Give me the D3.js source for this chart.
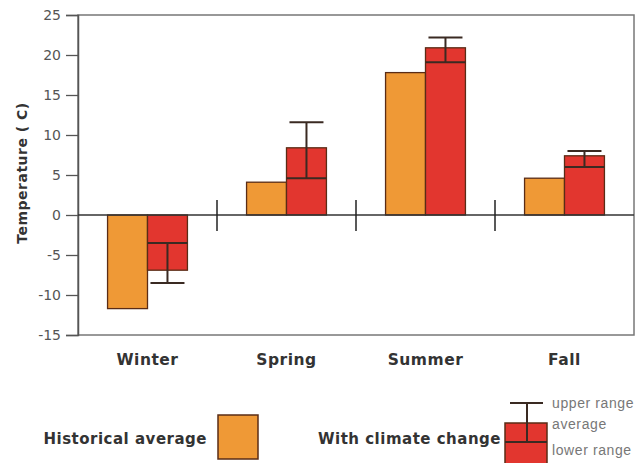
<!DOCTYPE html>
<html>
<head>
<meta charset="utf-8">
<script src="https://cdn.jsdelivr.net/npm/d3@7"></script>
<style>
  html, body { margin: 0; padding: 0; background: #fff; }
  svg { display: block; }
</style>
</head>
<body>
<svg id="chart" width="642" height="463"></svg>
<script>
// Seasonal temperatures, historical vs. projected with climate change
const categories = ["Winter", "Spring", "Summer", "Fall"];
const historical = [-11.7, 4.1, 17.8, 4.6];
const climateAvg = [-6.9, 8.4, 20.9, 7.4];
const climateLow = [-8.5, 4.6, 19.1, 6.0];
const climateHigh = [-3.5, 11.6, 22.2, 8.0];
const yTicks = [-15, -10, -5, 0, 5, 10, 15, 20, 25];

const orange = "#ef9936";
const red = "#e2362f";
const edge = "#5a2c16";
const whisker = "#3a2a22";
const axisColor = "#555";
const boldFont = "'DejaVu Sans', Verdana, sans-serif";

const svg = d3.select("#chart");
const plotLeft = 78, plotRight = 634, plotTop = 15, plotBottom = 335;

const y = d3.scaleLinear().domain([-15, 25]).range([plotBottom, plotTop]);
const x = d3.scaleBand().domain(categories).range([plotLeft, plotRight]).padding(0);
const xs = d3.scaleBand().domain(["hist", "climate"]).range([0, x.bandwidth()])
  .paddingInner(0).paddingOuter(0.74);

// Frame around the plotting area
svg.append("rect")
  .attr("x", plotLeft).attr("y", plotTop)
  .attr("width", plotRight - plotLeft).attr("height", plotBottom - plotTop)
  .attr("fill", "none").attr("stroke", "#777").attr("stroke-width", 1.5);

// Y axis (plain hyphen for negatives)
const yAxis = svg.append("g")
  .attr("transform", `translate(${plotLeft},0)`)
  .call(d3.axisLeft(y).tickValues(yTicks).tickFormat(d => String(d))
    .tickSize(12).tickPadding(5));
yAxis.select(".domain").attr("stroke", axisColor).attr("stroke-width", 1.5);
yAxis.selectAll(".tick line").attr("stroke", axisColor).attr("stroke-width", 1.3);
yAxis.selectAll(".tick text")
  .attr("fill", "#555")
  .style("font-family", "'DejaVu Sans', sans-serif")
  .style("font-size", "14px");

svg.append("text")
  .attr("transform", "translate(27,173) rotate(-90)")
  .attr("text-anchor", "middle")
  .attr("fill", "#333")
  .style("font-family", boldFont)
  .style("font-weight", "bold")
  .style("font-size", "14px")
  .style("letter-spacing", "0.5px")
  .text("Temperature ( C)");

// Bars
const groups = svg.append("g").selectAll("g")
  .data(categories)
  .join("g")
  .attr("transform", d => `translate(${x(d)},0)`);

groups.append("rect")
  .attr("x", xs("hist"))
  .attr("width", xs.bandwidth())
  .attr("y", (d, i) => y(Math.max(0, historical[i])))
  .attr("height", (d, i) => Math.abs(y(historical[i]) - y(0)))
  .attr("fill", orange).attr("stroke", edge).attr("stroke-width", 1.3);

groups.append("rect")
  .attr("x", xs("climate"))
  .attr("width", xs.bandwidth())
  .attr("y", (d, i) => y(Math.max(0, climateAvg[i])))
  .attr("height", (d, i) => Math.abs(y(climateAvg[i]) - y(0)))
  .attr("fill", red).attr("stroke", edge).attr("stroke-width", 1.3);

// Range whiskers: the end inside the bar spans the bar, the far end gets a cap
const capHalf = 17;
groups.each(function (d, i) {
  const g = d3.select(this);
  const cx = xs("climate") + xs.bandwidth() / 2;
  const lo = climateLow[i], hi = climateHigh[i];
  const inner = Math.abs(lo) < Math.abs(hi) ? lo : hi;
  const outer = inner === lo ? hi : lo;
  g.append("line")
    .attr("x1", cx).attr("x2", cx)
    .attr("y1", y(inner)).attr("y2", y(outer))
    .attr("stroke", whisker).attr("stroke-width", 2);
  g.append("line")
    .attr("x1", xs("climate")).attr("x2", xs("climate") + xs.bandwidth())
    .attr("y1", y(inner)).attr("y2", y(inner))
    .attr("stroke", whisker).attr("stroke-width", 2);
  g.append("line")
    .attr("x1", cx - capHalf).attr("x2", cx + capHalf)
    .attr("y1", y(outer)).attr("y2", y(outer))
    .attr("stroke", whisker).attr("stroke-width", 2);
});

// Zero line and season separators
svg.append("line")
  .attr("x1", plotLeft).attr("x2", plotRight)
  .attr("y1", y(0)).attr("y2", y(0))
  .attr("stroke", "#333").attr("stroke-width", 1.3);

svg.append("g").selectAll("line")
  .data(categories.slice(1))
  .join("line")
  .attr("x1", d => x(d)).attr("x2", d => x(d))
  .attr("y1", y(0) - 15).attr("y2", y(0) + 16)
  .attr("stroke", "#222").attr("stroke-width", 1.5);

// Season labels
svg.append("g").selectAll("text")
  .data(categories)
  .join("text")
  .attr("x", d => x(d) + x.bandwidth() / 2)
  .attr("y", 365)
  .attr("text-anchor", "middle")
  .attr("fill", "#333")
  .style("font-family", boldFont)
  .style("font-weight", "bold")
  .style("font-size", "15.5px")
  .style("letter-spacing", "0.5px")
  .text(d => d);

// Legend
svg.append("text")
  .attr("x", 207).attr("y", 444)
  .attr("text-anchor", "end")
  .attr("fill", "#333")
  .style("font-family", boldFont)
  .style("font-weight", "bold")
  .style("font-size", "15px")
  .style("letter-spacing", "0.5px")
  .text("Historical average");
svg.append("rect")
  .attr("x", 218).attr("y", 415).attr("width", 40).attr("height", 44)
  .attr("fill", orange).attr("stroke", edge).attr("stroke-width", 1.5);

svg.append("text")
  .attr("x", 501).attr("y", 444)
  .attr("text-anchor", "end")
  .attr("fill", "#333")
  .style("font-family", boldFont)
  .style("font-weight", "bold")
  .style("font-size", "15px")
  .style("letter-spacing", "0.5px")
  .text("With climate change");
svg.append("rect")
  .attr("x", 505).attr("y", 423).attr("width", 42).attr("height", 45)
  .attr("fill", red).attr("stroke", edge).attr("stroke-width", 1.5);
svg.append("line")
  .attr("x1", 527).attr("x2", 527).attr("y1", 403).attr("y2", 442)
  .attr("stroke", whisker).attr("stroke-width", 2);
svg.append("line")
  .attr("x1", 505).attr("x2", 547).attr("y1", 442).attr("y2", 442)
  .attr("stroke", whisker).attr("stroke-width", 2);
svg.append("line")
  .attr("x1", 510).attr("x2", 543).attr("y1", 403).attr("y2", 403)
  .attr("stroke", whisker).attr("stroke-width", 2);

const legendNotes = [
  { text: "upper range", y: 408 },
  { text: "average", y: 429 },
  { text: "lower range", y: 455 }
];
svg.append("g").selectAll("text")
  .data(legendNotes)
  .join("text")
  .attr("x", 552).attr("y", d => d.y)
  .attr("fill", "#777")
  .style("font-family", "'Liberation Sans', Arial, sans-serif")
  .style("font-size", "14px")
  .style("letter-spacing", "0.6px")
  .text(d => d.text);
</script>
</body>
</html>
